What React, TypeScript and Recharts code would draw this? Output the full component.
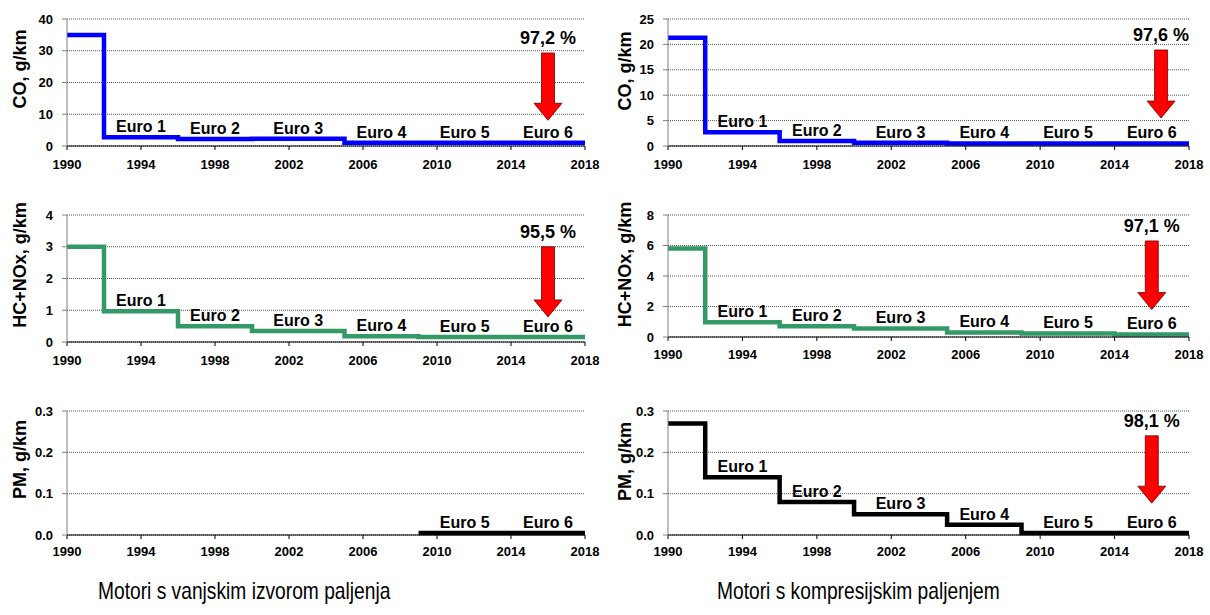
import React from 'react';
import {
  LineChart,
  Line,
  XAxis,
  YAxis,
  CartesianGrid,
  ReferenceDot,
  ReferenceLine,
} from 'recharts';

const FONT = '"Liberation Sans", Arial, Helvetica, sans-serif';

// years where a new emission stage starts (2018 closes the last step)
const stageYears = [1990, 1992, 1996, 2000, 2005, 2009, 2014, 2018];
const stageNames = ['', 'Euro 1', 'Euro 2', 'Euro 3', 'Euro 4', 'Euro 5', 'Euro 6'];
const yearTicks = [1990, 1994, 1998, 2002, 2006, 2010, 2014, 2018];

// limit values, g/km
const coPetrol = [35, 2.72, 2.2, 2.3, 1.0, 1.0, 1.0, 1.0];
const coDiesel = [21.3, 2.72, 1.0, 0.64, 0.5, 0.5, 0.5, 0.5];
const hcNoxPetrol = [3.0, 0.97, 0.5, 0.35, 0.18, 0.16, 0.16, 0.16];
const hcNoxDiesel = [5.8, 0.97, 0.7, 0.56, 0.3, 0.23, 0.17, 0.17];
const pmPetrol = [null, null, null, null, null, 0.005, 0.005, 0.005];
const pmDiesel = [0.27, 0.14, 0.08, 0.05, 0.025, 0.005, 0.005, 0.005];

const coPetrolTicks = [0, 10, 20, 30, 40];
const coDieselTicks = [0, 5, 10, 15, 20, 25];
const hcNoxPetrolTicks = [0, 1, 2, 3, 4];
const hcNoxDieselTicks = [0, 2, 4, 6, 8];
const pmTicks = [0, 0.1, 0.2, 0.3];

// total reduction since 1990
const reductionLabels = ['97,2 %', '97,6 %', '95,5 %', '97,1 %', '', '98,1 %'];

type Arrow = { year: number; from: number; to: number } | null;

interface PanelProps {
  left: number;
  top: number;
  yAxisWidth: number;
  plotH: number;
  values: (number | null)[];
  ticks: number[];
  color: string;
  title: string;
  decimals: number;
  reduction: string;
  arrow: Arrow;
  xTickMargin: number;
}

const MARGIN_TOP = 19;
const X_AXIS_H = 30;

function ArrowMark(props: any) {
  const { x1, y1, y2, text } = props;
  const cx = x1;
  const top = Math.min(y1, y2);
  const tip = Math.max(y1, y2);
  const sh = 6.5;
  const hh = 14;
  const base = tip - 17;
  const d = `M${cx - sh},${top} L${cx + sh},${top} L${cx + sh},${base} L${cx + hh},${base} L${cx},${tip} L${cx - hh},${base} L${cx - sh},${base} Z`;
  return (
    <g>
      <path d={d} fill="#ff0000" stroke="#6e0000" strokeWidth={0.8} />
      <text
        x={cx}
        y={top - 9}
        textAnchor="middle"
        fontFamily={FONT}
        fontSize={18}
        fontWeight="bold"
        fill="#000"
      >
        {text}
      </text>
    </g>
  );
}

function Panel(p: PanelProps) {
  const width = 605;
  const height = MARGIN_TOP + p.plotH + X_AXIS_H;
  const rows = stageYears.map((year, i) => ({ year, value: p.values[i] }));
  const max = p.ticks[p.ticks.length - 1];
  const titleY = MARGIN_TOP + p.plotH / 2;

  const stageLabels = stageNames
    .map((name, i) => ({ name, i }))
    .filter(({ i }) => i > 0 && p.values[i] != null)
    .map(({ name, i }) => ({
      name,
      x: (stageYears[i] + stageYears[i + 1]) / 2,
      y: p.values[i] as number,
    }));

  return (
    <div style={{ position: 'absolute', left: p.left, top: p.top }}>
      <LineChart
        width={width}
        height={height}
        data={rows}
        margin={{ top: MARGIN_TOP, right: width - 584 - (p.left ? 0 : 1), left: 0, bottom: 0 }}
        style={{ overflow: 'visible' }}
      >
        <CartesianGrid vertical={false} stroke="#555" strokeDasharray="1 1" />
        <XAxis
          dataKey="year"
          type="number"
          domain={[1990, 2018]}
          ticks={yearTicks}
          height={X_AXIS_H}
          axisLine={{ stroke: '#000' }}
          tickLine={{ stroke: '#000' }}
          tickSize={4}
          tickMargin={p.xTickMargin}
          tick={{ fontFamily: FONT, fontSize: 13, fontWeight: 'bold', fill: '#000' }}
          interval={0}
        />
        <YAxis
          type="number"
          domain={[0, max]}
          ticks={p.ticks}
          width={p.yAxisWidth}
          axisLine={{ stroke: '#808080' }}
          tickLine={{ stroke: '#808080' }}
          tickSize={5}
          tickMargin={9}
          interval={0}
          tickFormatter={(v: number) => v.toFixed(p.decimals)}
          tick={{ fontFamily: FONT, fontSize: 13, fontWeight: 'bold', fill: '#000' }}
          label={
            <text
              x={20}
              y={titleY}
              transform={`rotate(-90 20 ${titleY})`}
              textAnchor="middle"
              dominantBaseline="central"
              fontFamily={FONT}
              fontSize={18}
              fontWeight="bold"
              fill="#000"
            >
              {p.title}
            </text>
          }
        />
        <Line
          type="stepAfter"
          dataKey="value"
          stroke={p.color}
          strokeWidth={4.5}
          strokeLinejoin="miter"
          dot={false}
          activeDot={false}
          connectNulls={false}
          isAnimationActive={false}
        />
        {stageLabels.map((s) => (
          <ReferenceDot
            key={s.name}
            x={s.x}
            y={s.y}
            r={0}
            shape={(dp: any) => (
              <text
                x={dp.cx}
                y={dp.cy - 5}
                textAnchor="middle"
                fontFamily={FONT}
                fontSize={16}
                fontWeight="bold"
                fill="#000"
              >
                {s.name}
              </text>
            )}
          />
        ))}
        {p.arrow && (
          <ReferenceLine
            segment={[
              { x: p.arrow.year, y: p.arrow.from },
              { x: p.arrow.year, y: p.arrow.to },
            ]}
            shape={(lp: any) => <ArrowMark {...lp} text={p.reduction} />}
          />
        )}
      </LineChart>
    </div>
  );
}

export default function App() {
  const captionStyle: React.CSSProperties = {
    position: 'absolute',
    top: 576,
    fontFamily: FONT,
    fontSize: 24,
    lineHeight: '30px',
    color: '#000',
    whiteSpace: 'nowrap',
    transform: 'scaleX(0.8)',
    transformOrigin: 'left center',
  };
  return (
    <div
      style={{
        position: 'absolute',
        left: 0,
        top: 0,
        width: 1210,
        height: 615,
        background: '#fff',
        overflow: 'hidden',
      }}
    >
      <Panel left={0} top={0} yAxisWidth={67} plotH={127} values={coPetrol} ticks={coPetrolTicks}
        color="#0000ff" title="CO, g/km" decimals={0} reduction={reductionLabels[0]}
        arrow={{ year: 2016, from: 29.3, to: 8.1 }} xTickMargin={10} />
      <Panel left={605} top={0} yAxisWidth={63} plotH={127} values={coDiesel} ticks={coDieselTicks}
        color="#0000ff" title="CO, g/km" decimals={0} reduction={reductionLabels[1]}
        arrow={{ year: 2016.5, from: 18.9, to: 5.5 }} xTickMargin={10} />
      <Panel left={0} top={196} yAxisWidth={67} plotH={127} values={hcNoxPetrol} ticks={hcNoxPetrolTicks}
        color="#339966" title="HC+NOx, g/km" decimals={0} reduction={reductionLabels[2]}
        arrow={{ year: 2016, from: 3.0, to: 0.79 }} xTickMargin={10} />
      <Panel left={605} top={196} yAxisWidth={63} plotH={122} values={hcNoxDiesel} ticks={hcNoxDieselTicks}
        color="#339966" title="HC+NOx, g/km" decimals={0} reduction={reductionLabels[3]}
        arrow={{ year: 2016, from: 6.3, to: 1.8 }} xTickMargin={9} />
      <Panel left={0} top={392} yAxisWidth={67} plotH={124} values={pmPetrol} ticks={pmTicks}
        color="#000000" title="PM, g/km" decimals={1} reduction={reductionLabels[4]}
        arrow={null} xTickMargin={8} />
      <Panel left={605} top={392} yAxisWidth={63} plotH={124} values={pmDiesel} ticks={pmTicks}
        color="#000000" title="PM, g/km" decimals={1} reduction={reductionLabels[5]}
        arrow={{ year: 2016, from: 0.24, to: 0.077 }} xTickMargin={8} />
      <div style={{ ...captionStyle, left: 98 }}>Motori s vanjskim izvorom paljenja</div>
      <div style={{ ...captionStyle, left: 717 }}>Motori s kompresijskim paljenjem</div>
    </div>
  );
}
